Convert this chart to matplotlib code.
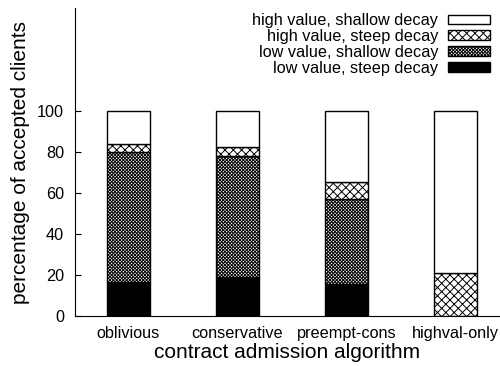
import matplotlib
matplotlib.use('Agg')
import matplotlib.pyplot as plt
import numpy as np

plt.rcParams['font.family'] = ['Liberation Sans', 'DejaVu Sans']
plt.rcParams['hatch.linewidth'] = 0.7

algorithms = ['oblivious', 'conservative', 'preempt-cons', 'highval-only']
low_steep = [16.5, 19.0, 15.5, 0.0]
low_shallow = [63.5, 59.0, 41.5, 0.0]
high_steep = [4.0, 4.5, 8.5, 21.0]
high_shallow = [16.0, 17.5, 34.5, 79.0]

series = [
    ('low value, steep decay', low_steep, 'black', ''),
    ('low value, shallow decay', low_shallow, 'white', 'x' * 10),
    ('high value, steep decay', high_steep, 'white', 'xxxx'),
    ('high value, shallow decay', high_shallow, 'white', ''),
]

fig = plt.figure(figsize=(5.0, 3.66), dpi=100)
ax = fig.add_axes([0.15, 0.137, 0.85, 0.84])

x = np.arange(len(algorithms))
bottom = np.zeros(len(algorithms))
handles = []
for label, vals, color, hatch in series:
    vals = np.array(vals)
    h = ax.bar(x, vals, width=0.4, bottom=bottom, color=color, edgecolor='black',
               hatch=hatch, linewidth=1.0, label=label)
    handles.append(h)
    bottom += vals

ax.set_xlim(-0.49, 3.41)
ax.set_ylim(0, 150)
ax.set_yticks([0, 20, 40, 60, 80, 100])
ax.set_xticks(x)
ax.set_xticklabels(algorithms, fontsize=11.7)
ax.tick_params(axis='y', direction='in', length=4, labelsize=11.7, pad=8)
ax.tick_params(axis='x', length=0, pad=7)
ax.spines['top'].set_visible(False)
ax.spines['right'].set_visible(False)
ax.set_xlabel('contract admission algorithm', fontsize=15, labelpad=2)
ax.set_ylabel('percentage of accepted clients', fontsize=15, labelpad=5)

ax.legend(handles[::-1], [s[0] for s in series][::-1], loc='upper right',
          bbox_to_anchor=(0.988, 1.0),
          frameon=False, markerfirst=False, fontsize=11.7, handlelength=2.6,
          handleheight=0.55, labelspacing=0.05, borderaxespad=0.0, handletextpad=0.6,
          borderpad=0.3)

fig.savefig('out.png', dpi=100)
